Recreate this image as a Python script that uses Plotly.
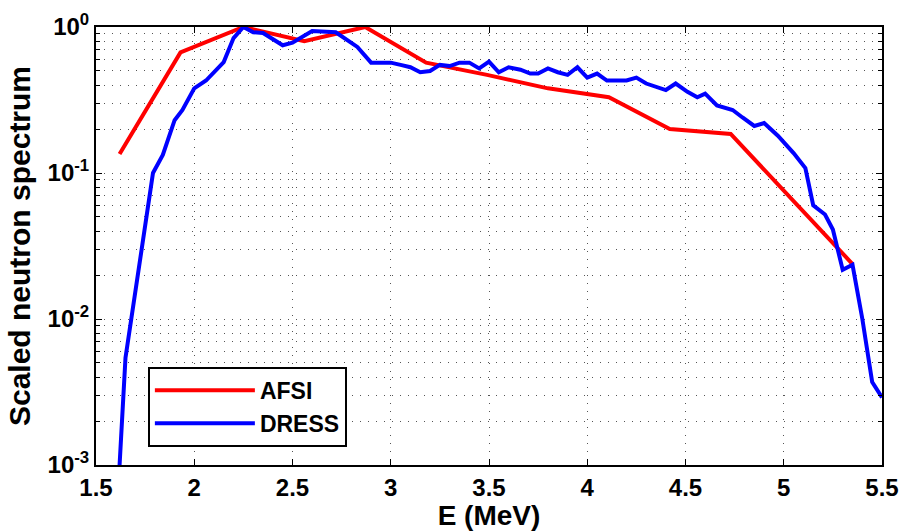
import plotly.graph_objects as go

afsi_e = [1.62, 1.93, 2.25, 2.56, 2.87, 3.18, 3.49, 3.80, 4.11, 4.42, 4.73, 5.04, 5.35]
afsi_s = [0.135, 0.67, 1.0, 0.80, 1.0, 0.57, 0.47, 0.38, 0.33, 0.20, 0.185, 0.066, 0.0238]

dress_e = [1.62, 1.65, 1.79, 1.84, 1.90, 1.94, 2.00, 2.06, 2.15, 2.20, 2.25, 2.30, 2.35,
           2.45, 2.50, 2.60, 2.72, 2.83, 2.90, 3.00, 3.05, 3.10, 3.15, 3.20, 3.25, 3.30,
           3.35, 3.40, 3.45, 3.50, 3.55, 3.60, 3.66, 3.71, 3.75, 3.80, 3.85, 3.90, 3.95,
           4.00, 4.05, 4.10, 4.20, 4.25, 4.30, 4.35, 4.40, 4.45, 4.51, 4.56, 4.60, 4.66,
           4.71, 4.74, 4.79, 4.85, 4.90, 4.97, 5.05, 5.11, 5.15, 5.21, 5.25, 5.30, 5.35,
           5.40, 5.45, 5.50]
dress_s = [0.001, 0.0054, 0.10, 0.133, 0.23, 0.27, 0.38, 0.43, 0.575, 0.84, 1.0, 0.92, 0.91,
           0.75, 0.78, 0.94, 0.92, 0.73, 0.57, 0.57, 0.55, 0.53, 0.49, 0.50, 0.55, 0.54,
           0.57, 0.57, 0.52, 0.58, 0.49, 0.53, 0.51, 0.48, 0.48, 0.52, 0.49, 0.47, 0.53,
           0.45, 0.48, 0.43, 0.43, 0.45, 0.41, 0.39, 0.37, 0.41, 0.36, 0.33, 0.35, 0.29,
           0.28, 0.27, 0.24, 0.21, 0.22, 0.18, 0.137, 0.108, 0.060, 0.052, 0.041, 0.0217, 0.0235,
           0.010, 0.0037, 0.0029]

x_ticks = [1.5, 2, 2.5, 3, 3.5, 4, 4.5, 5, 5.5]
x_ticktext = ["1.5", "2", "2.5", "3", "3.5", "4", "4.5", "5", "5.5"]
y_ticks = [0.001, 0.01, 0.1, 1]
y_ticktext = ["10<sup>-3</sup>", "10<sup>-2</sup>", "10<sup>-1</sup>", "10<sup>0</sup>"]
y_minor = [m * d for d in (0.001, 0.01, 0.1) for m in range(2, 10)]

fig = go.Figure()
fig.add_trace(go.Scatter(x=afsi_e, y=afsi_s, mode="lines", name="AFSI",
                         line=dict(color="#FF0000", width=4)))
fig.add_trace(go.Scatter(x=dress_e, y=dress_s, mode="lines", name="DRESS",
                         line=dict(color="#0000FF", width=4)))

font_main = "Liberation Sans, Arial, sans-serif"
grid = dict(showgrid=True, gridcolor="#555", gridwidth=1, griddash="1px,7px")

fig.update_layout(
    width=904, height=531,
    margin=dict(l=96, r=22, t=27, b=66),
    paper_bgcolor="white", plot_bgcolor="white",
    showlegend=True,
    legend=dict(x=0.066, y=0.224, xanchor="left", yanchor="top",
                bgcolor="white", bordercolor="black", borderwidth=2,
                font=dict(family=font_main, size=23, color="black", weight="bold"),
                itemwidth=100, tracegroupgap=0),
    xaxis=dict(range=[1.5, 5.5], tickvals=x_ticks, ticktext=x_ticktext,
               ticks="inside", ticklen=6, tickcolor="black",
               showline=True, linecolor="black", linewidth=2, mirror="ticks",
               zeroline=False, automargin=False,
               tickfont=dict(family=font_main, size=24, color="black", weight="bold"),
               title=dict(text="E (MeV)", standoff=2,
                          font=dict(family=font_main, size=28, color="black", weight="bold")),
               **grid),
    yaxis=dict(type="log", range=[-3, 0], tickvals=y_ticks, ticktext=y_ticktext,
               ticks="inside", ticklen=6, tickcolor="black",
               showline=True, linecolor="black", linewidth=2, mirror="ticks",
               zeroline=False, automargin=False,
               tickfont=dict(family=font_main, size=24, color="black", weight="bold"),
               title=dict(text="Scaled neutron spectrum", standoff=8,
                          font=dict(family=font_main, size=30, color="black", weight="bold")),
               minor=dict(tickvals=y_minor, ticks="inside", ticklen=4, tickcolor="black",
                          showgrid=True, gridcolor="#555", gridwidth=1, griddash="1px,7px"),
               **grid),
)

fig.write_html("out.html")
